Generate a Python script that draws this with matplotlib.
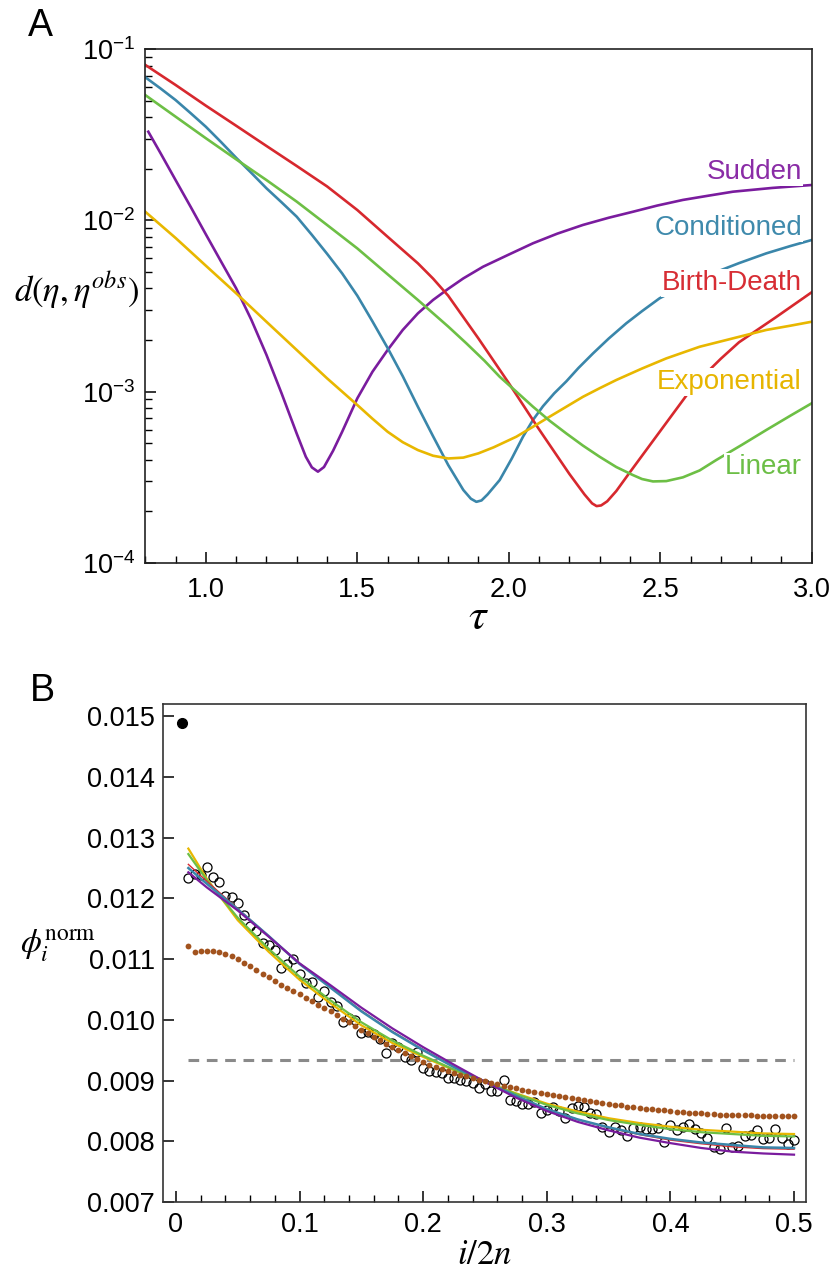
import numpy as np
import matplotlib
matplotlib.use("Agg")
import matplotlib.pyplot as plt
from matplotlib.ticker import FixedLocator, FixedFormatter, MultipleLocator, LogLocator, NullFormatter

plt.rcParams['font.family'] = ['Liberation Sans', 'DejaVu Sans']
plt.rcParams['mathtext.fontset'] = 'stix'

# ---------------- Panel A data (tau, log10 distance) ----------------
sudden_tau = [0.81, 0.85, 0.9, 0.95, 1.0, 1.05, 1.1, 1.15, 1.2, 1.25, 1.3, 1.33, 1.35, 1.37, 1.39, 1.42, 1.45,
              1.5, 1.55, 1.6, 1.65, 1.7, 1.75, 1.8, 1.85, 1.915, 2.0, 2.08, 2.16, 2.245, 2.33, 2.41, 2.49,
              2.575, 2.66, 2.74, 2.87, 3.0]
sudden_log = [-1.483, -1.607, -1.765, -1.922, -2.082, -2.240, -2.397, -2.580, -2.785, -3.010, -3.245, -3.380,
              -3.442, -3.467, -3.440, -3.345, -3.234, -3.039, -2.884, -2.757, -2.640, -2.543, -2.465, -2.400,
              -2.339, -2.271, -2.200, -2.134, -2.078, -2.027, -1.985, -1.950, -1.914, -1.881, -1.856, -1.833,
              -1.811, -1.794]

cond_tau = [0.8, 0.85, 0.9, 0.95, 1.0, 1.05, 1.1, 1.15, 1.2, 1.25, 1.3, 1.35, 1.4, 1.45, 1.5, 1.55, 1.6,
            1.65, 1.7, 1.75, 1.8, 1.85, 1.875, 1.893, 1.91, 1.93, 1.97, 2.01, 2.047, 2.08, 2.113, 2.15,
            2.19, 2.23, 2.278, 2.33, 2.388, 2.44, 2.498, 2.58, 2.674, 2.76, 2.85, 2.93, 3.0]
cond_log = [-1.165, -1.230, -1.298, -1.375, -1.454, -1.543, -1.635, -1.723, -1.813, -1.895, -1.979, -2.085,
            -2.195, -2.310, -2.440, -2.590, -2.745, -2.910, -3.088, -3.260, -3.428, -3.574, -3.625, -3.643,
            -3.635, -3.600, -3.516, -3.390, -3.263, -3.165, -3.085, -3.010, -2.940, -2.862, -2.777, -2.690,
            -2.601, -2.530, -2.455, -2.380, -2.309, -2.250, -2.193, -2.150, -2.115]

bd_tau = [0.8, 0.9, 1.0, 1.1, 1.2, 1.3, 1.4, 1.5, 1.6, 1.7, 1.75, 1.8, 1.85, 1.9, 1.95, 2.0, 2.05, 2.1,
          2.15, 2.2, 2.25, 2.275, 2.29, 2.305, 2.325, 2.355, 2.4, 2.45, 2.5, 2.55, 2.6, 2.65, 2.7, 2.76,
          2.82, 2.88, 2.94, 3.0]
bd_log = [-1.093, -1.210, -1.331, -1.448, -1.566, -1.683, -1.802, -1.940, -2.096, -2.251, -2.340, -2.440,
          -2.565, -2.690, -2.820, -2.950, -3.085, -3.220, -3.350, -3.480, -3.600, -3.652, -3.668, -3.664,
          -3.640, -3.580, -3.470, -3.350, -3.230, -3.110, -2.990, -2.895, -2.808, -2.712, -2.640, -2.568,
          -2.494, -2.420]

exp_tau = [0.8, 0.9, 1.0, 1.1, 1.2, 1.3, 1.4, 1.5, 1.55, 1.6, 1.65, 1.7, 1.75, 1.8, 1.85, 1.9, 1.95,
           2.025, 2.08, 2.135, 2.19, 2.245, 2.3, 2.355, 2.44, 2.52, 2.63, 2.74, 2.85, 2.93, 3.0]
exp_log = [-1.950, -2.103, -2.265, -2.426, -2.592, -2.757, -2.922, -3.078, -3.158, -3.234, -3.295, -3.341,
           -3.374, -3.390, -3.385, -3.360, -3.325, -3.263, -3.205, -3.146, -3.088, -3.030, -2.980, -2.932,
           -2.865, -2.806, -2.738, -2.689, -2.640, -2.615, -2.592]

lin_tau = [0.8, 0.9, 1.0, 1.1, 1.2, 1.3, 1.4, 1.5, 1.6, 1.7, 1.8, 1.86, 1.92, 1.97, 2.025, 2.08, 2.135,
           2.19, 2.245, 2.3, 2.355, 2.41, 2.44, 2.476, 2.52, 2.575, 2.63, 2.685, 2.77, 2.85, 2.93, 3.0]
lin_log = [-1.269, -1.395, -1.521, -1.644, -1.765, -1.891, -2.027, -2.164, -2.315, -2.465, -2.620, -2.718,
           -2.820, -2.913, -3.000, -3.088, -3.170, -3.244, -3.315, -3.380, -3.440, -3.487, -3.510, -3.524,
           -3.522, -3.500, -3.460, -3.399, -3.310, -3.224, -3.140, -3.068]

labels_A = ['Sudden', 'Conditioned', 'Birth-Death', 'Exponential', 'Linear']
label_y_A = [0.0191, 0.00901, 0.00431, 0.001138, 0.000363]
colors = ['#7A1C9E', '#3A86AA', '#D7282E', '#E8B700', '#6DBF45']
label_colors = ['#8A2CA6', '#3F8AAC', '#D72D34', '#E7B500', '#6CBE46']

# ---------------- Panel B data ----------------
obs_first_x = 0.005
obs_first_y = 0.01488
obs_x = [round(0.01 + 0.005 * k, 3) for k in range(99)]
obs_y = [0.01234, 0.01240, 0.01238, 0.01252, 0.01236, 0.01227, 0.01204, 0.01202, 0.01192, 0.01172,
         0.01154, 0.01147, 0.01126, 0.01123, 0.01115, 0.01085, 0.01092, 0.01100, 0.01075, 0.01060,
         0.01062, 0.01038, 0.01048, 0.01030, 0.01022, 0.00997, 0.01003, 0.01000, 0.00978, 0.00980,
         0.00976, 0.00969, 0.00945, 0.00962, 0.00956, 0.00939, 0.00934, 0.00947, 0.00920, 0.00915,
         0.00914, 0.00912, 0.00905, 0.00904, 0.00901, 0.00899, 0.00896, 0.00887, 0.00895, 0.00883,
         0.00883, 0.00901, 0.00868, 0.00866, 0.00862, 0.00861, 0.00864, 0.00847, 0.00851, 0.00857,
         0.00850, 0.00839, 0.00855, 0.00858, 0.00857, 0.00846, 0.00845, 0.00824, 0.00816, 0.00824,
         0.00818, 0.00808, 0.00822, 0.00824, 0.00820, 0.00821, 0.00822, 0.00799, 0.00827, 0.00818,
         0.00823, 0.00828, 0.00820, 0.00813, 0.00805, 0.00791, 0.00788, 0.00822, 0.00791, 0.00793,
         0.00808, 0.00810, 0.00818, 0.00803, 0.00805, 0.00820, 0.00805, 0.00795, 0.00802]

brown_y = [0.01121, 0.01112, 0.01113, 0.01114, 0.01114, 0.01112, 0.01109, 0.01105, 0.01100, 0.01094,
           0.01088, 0.01082, 0.01076, 0.01070, 0.01064, 0.01058, 0.01053, 0.01047, 0.01042, 0.01036,
           0.01031, 0.01025, 0.01020, 0.01014, 0.01008, 0.01002, 0.00996, 0.00990, 0.00984, 0.00978,
           0.00972, 0.00966, 0.00960, 0.00955, 0.00950, 0.00945, 0.00940, 0.00935, 0.00930, 0.00926,
           0.00923, 0.00919, 0.00916, 0.00913, 0.00910, 0.00907, 0.00904, 0.00901, 0.00899, 0.00896,
           0.00894, 0.00891, 0.00889, 0.00887, 0.00885, 0.00883, 0.00881, 0.00879, 0.00878, 0.00876,
           0.00874, 0.00873, 0.00871, 0.00869, 0.00868, 0.00866, 0.00865, 0.00863, 0.00862, 0.00860,
           0.00859, 0.00857, 0.00856, 0.00855, 0.00854, 0.00853, 0.00852, 0.00851, 0.00850, 0.00849,
           0.00848, 0.00847, 0.00846, 0.00846, 0.00845, 0.00845, 0.00844, 0.00844, 0.00844, 0.00843,
           0.00843, 0.00843, 0.00842, 0.00842, 0.00842, 0.00842, 0.00842, 0.00842, 0.00842]

uniform_level = 0.00934

fit_x = [0.01, 0.025, 0.05, 0.075, 0.1, 0.125, 0.15, 0.175, 0.2, 0.225, 0.25, 0.275, 0.3, 0.325, 0.35, 0.375, 0.4, 0.425, 0.45, 0.475, 0.5]
fit_sudden = [0.01243, 0.01218, 0.01180, 0.01137, 0.01093, 0.01057, 0.01020, 0.00986, 0.00955, 0.00926, 0.00898, 0.00872, 0.00850, 0.00832, 0.00818, 0.00806, 0.00797, 0.00789, 0.00783, 0.00780, 0.00778]
fit_cond = [0.01250, 0.01224, 0.01182, 0.01138, 0.01092, 0.01053, 0.01014, 0.00980, 0.00950, 0.00922, 0.00898, 0.00875, 0.00853, 0.00836, 0.00823, 0.00812, 0.00804, 0.00798, 0.00794, 0.00790, 0.00789]
fit_bd = [0.01256, 0.01228, 0.01183, 0.01138, 0.01093, 0.01054, 0.01015, 0.00981, 0.00951, 0.00923, 0.00898, 0.00875, 0.00853, 0.00836, 0.00822, 0.00811, 0.00802, 0.00796, 0.00791, 0.00788, 0.00787]
fit_lin = [0.01273, 0.01230, 0.01168, 0.01117, 0.01071, 0.01032, 0.00996, 0.00966, 0.00941, 0.00918, 0.00898, 0.00878, 0.00860, 0.00846, 0.00835, 0.00827, 0.00820, 0.00815, 0.00812, 0.00809, 0.00808]
fit_exp = [0.01282, 0.01232, 0.01164, 0.01112, 0.01066, 0.01027, 0.00991, 0.00962, 0.00939, 0.00917, 0.00898, 0.00879, 0.00862, 0.00849, 0.00838, 0.00830, 0.00824, 0.00819, 0.00816, 0.00813, 0.00812]

# ---------------- Figure ----------------
fig = plt.figure(figsize=(8.33, 12.72), dpi=100)
axA = fig.add_axes([0.1744, 0.5574, 0.8000, 0.4041])
axB = fig.add_axes([0.1957, 0.0550, 0.7719, 0.3915])

# Panel A
curvesA = [(sudden_tau, sudden_log), (cond_tau, cond_log), (bd_tau, bd_log), (exp_tau, exp_log), (lin_tau, lin_log)]
for (t, lg), c in zip(curvesA, colors):
    axA.plot(t, 10 ** np.array(lg), color=c, lw=1.9, solid_joinstyle='round', zorder=2)
axA.set_yscale('log')
axA.set_xlim(0.8, 3.0)
axA.set_ylim(1e-4, 1e-1)
for lab, ly, c in zip(labels_A, label_y_A, label_colors):
    axA.text(2.968, ly, lab, color=c, fontsize=20, ha='right', va='center', zorder=5,
             bbox=dict(facecolor='white', edgecolor='none', pad=0.5))

axA.yaxis.set_major_locator(FixedLocator([1e-4, 1e-3, 1e-2, 1e-1]))
axA.yaxis.set_major_formatter(FixedFormatter([r'$\mathregular{10^{-4}}$', r'$\mathregular{10^{-3}}$',
                                              r'$\mathregular{10^{-2}}$', r'$\mathregular{10^{-1}}$']))
axA.yaxis.set_minor_locator(LogLocator(base=10, subs=np.arange(2, 10)))
axA.yaxis.set_minor_formatter(NullFormatter())
axA.xaxis.set_major_locator(FixedLocator([1.0, 1.5, 2.0, 2.5, 3.0]))
axA.xaxis.set_major_formatter(FixedFormatter(['1.0', '1.5', '2.0', '2.5', '3.0']))
axA.xaxis.set_minor_locator(MultipleLocator(0.1))
axA.tick_params(axis='both', which='major', direction='in', length=8, width=1.1, labelsize=19.5, top=False, right=False)
axA.tick_params(axis='both', which='minor', direction='in', length=5, width=1.0, top=False, right=False)
axA.tick_params(axis='x', which='major', pad=10)
axA.tick_params(axis='y', which='major', pad=7)
for s in axA.spines.values():
    s.set_linewidth(1.2)
    s.set_color('#222222')
axA.set_xlabel(r'$\tau$', fontsize=32, labelpad=-4)
fig.text(0.092, 0.772, r'$d(\eta,\eta^{obs})$', fontsize=25, ha='center', va='center')
fig.text(0.033, 0.9796, 'A', fontsize=27, ha='left', va='center')

# Panel B
axB.axhline(uniform_level, xmin=(0.01 + 0.0105) / 0.5202, xmax=(0.5 + 0.0105) / 0.5202,
            color='#8A8A8A', lw=2.2, ls=(0, (3.5, 2.5)), zorder=1)
axB.plot(obs_x, obs_y, 'o', ms=6.5, mfc='none', mec='black', mew=0.9, zorder=2)
fits = [fit_exp, fit_lin, fit_bd, fit_cond, fit_sudden]
fit_cols = [colors[3], colors[4], colors[2], colors[1], colors[0]]
fit_lw = [1.6, 1.6, 1.0, 1.8, 1.6]
for f, c, w in zip(fits, fit_cols, fit_lw):
    axB.plot(fit_x, f, color=c, lw=w, solid_joinstyle='round', zorder=3)
axB.plot(obs_x, brown_y, 'o', ms=4.2, color='#A2531E', mec='none', zorder=4)
axB.plot([obs_first_x], [obs_first_y], 'o', ms=7, color='black', zorder=5)

axB.set_xlim(-0.0105, 0.5097)
axB.set_ylim(0.007, 0.0152)
axB.xaxis.set_major_locator(FixedLocator([0, 0.1, 0.2, 0.3, 0.4, 0.5]))
axB.xaxis.set_major_formatter(FixedFormatter(['0', '0.1', '0.2', '0.3', '0.4', '0.5']))
axB.xaxis.set_minor_locator(MultipleLocator(0.02))
axB.yaxis.set_major_locator(FixedLocator([0.007, 0.008, 0.009, 0.010, 0.011, 0.012, 0.013, 0.014, 0.015]))
axB.yaxis.set_major_formatter(FixedFormatter(['0.007', '0.008', '0.009', '0.010', '0.011', '0.012', '0.013', '0.014', '0.015']))
axB.tick_params(axis='both', which='major', direction='in', length=8, width=1.1, labelsize=19.5, top=False, right=False)
axB.tick_params(axis='both', which='minor', direction='in', length=5, width=1.0, top=False, right=False)
axB.tick_params(axis='x', which='major', pad=7)
axB.tick_params(axis='y', which='major', pad=6)
for s in axB.spines.values():
    s.set_linewidth(1.2)
    s.set_color('#333333')
axB.set_xlabel(r'$i/2n$', fontsize=25, labelpad=0)
fig.text(0.024, 0.2563, r'$\phi_i^{\mathrm{norm}}$', fontsize=24, ha='left', va='center')
fig.text(0.036, 0.4568, 'B', fontsize=27, ha='left', va='center')

fig.savefig('out.png', dpi=100)
